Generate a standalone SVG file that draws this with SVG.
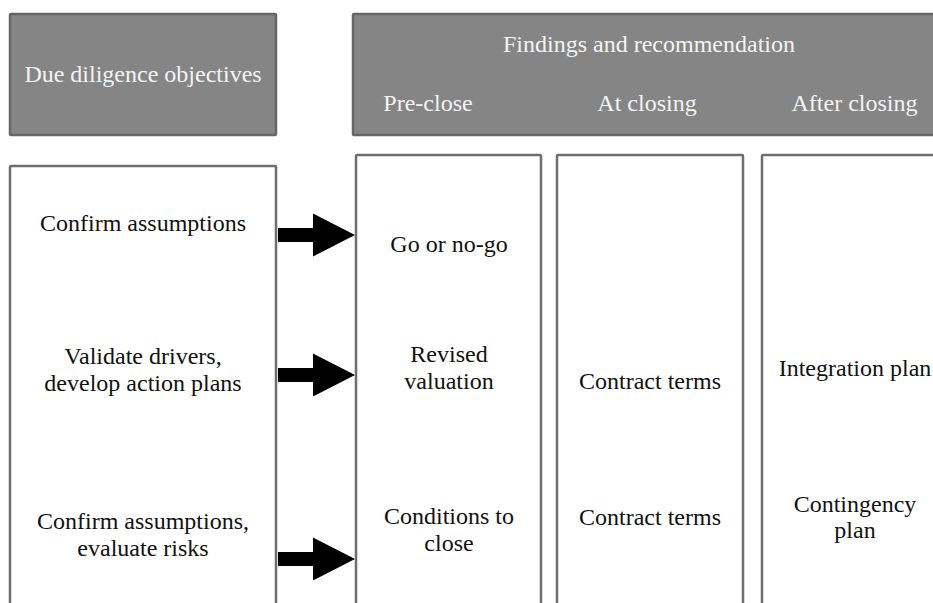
<svg xmlns="http://www.w3.org/2000/svg" xmlns:xlink="http://www.w3.org/1999/xlink" width="933" height="603" viewBox="0 0 933 603">
  <style>
    .hdr { fill: #858585; stroke: #666666; stroke-width: 2.5; }
    .box { fill: #ffffff; stroke: #6e6e6e; stroke-width: 2.5; }
    text { font-family: "Liberation Serif", "Times New Roman", serif; font-size: 24px; text-anchor: middle; }
    .hdr-t { fill: #f4f4f4; }
    .body-t { fill: #111111; }
    .arrow { fill: #000000; }
  </style>
  <defs>
    <!-- block arrow, tip at origin -->
    <polygon id="blockArrow" points="-77,-7 -42,-7 -42,-21.5 0,0 -42,21.5 -42,7 -77,7"/>
  </defs>
  <rect width="933" height="603" fill="#ffffff"/>

  <g id="header-objectives">
    <rect class="hdr" x="10" y="14" width="266" height="121" rx="1"/>
    <text class="hdr-t" x="143" y="82">Due diligence objectives</text>
  </g>

  <g id="header-findings">
    <rect class="hdr" x="353" y="14" width="600" height="121" rx="1"/>
    <text class="hdr-t" x="649" y="52">Findings and recommendation</text>
    <text class="hdr-t" x="428" y="111">Pre-close</text>
    <text class="hdr-t" x="647" y="111">At closing</text>
    <text class="hdr-t" x="854.5" y="111">After closing</text>
  </g>

  <g id="objectives">
    <rect class="box" x="10" y="166" width="266" height="460" rx="1"/>
    <text class="body-t" x="143" y="231">Confirm assumptions</text>
    <text class="body-t" x="143" y="364">Validate drivers,</text>
    <text class="body-t" x="143" y="391">develop action plans</text>
    <text class="body-t" x="143" y="529">Confirm assumptions,</text>
    <text class="body-t" x="143" y="556">evaluate risks</text>
  </g>

  <g id="pre-close">
    <rect class="box" x="356" y="155" width="185" height="470" rx="1"/>
    <text class="body-t" x="449" y="252">Go or no-go</text>
    <text class="body-t" x="449" y="362">Revised</text>
    <text class="body-t" x="449" y="389">valuation</text>
    <text class="body-t" x="449" y="524">Conditions to</text>
    <text class="body-t" x="449" y="551">close</text>
  </g>

  <g id="at-closing">
    <rect class="box" x="557" y="155" width="186" height="470" rx="1"/>
    <text class="body-t" x="650" y="389">Contract terms</text>
    <text class="body-t" x="650" y="525">Contract terms</text>
  </g>

  <g id="after-closing">
    <rect class="box" x="762" y="155" width="186" height="470" rx="1"/>
    <text class="body-t" x="855" y="376">Integration plan</text>
    <text class="body-t" x="855" y="512">Contingency</text>
    <text class="body-t" x="855" y="538">plan</text>
  </g>

  <g id="connectors">
    <use xlink:href="#blockArrow" class="arrow" x="355" y="235"/>
    <use xlink:href="#blockArrow" class="arrow" x="355" y="375"/>
    <use xlink:href="#blockArrow" class="arrow" x="355" y="559"/>
  </g>
</svg>
